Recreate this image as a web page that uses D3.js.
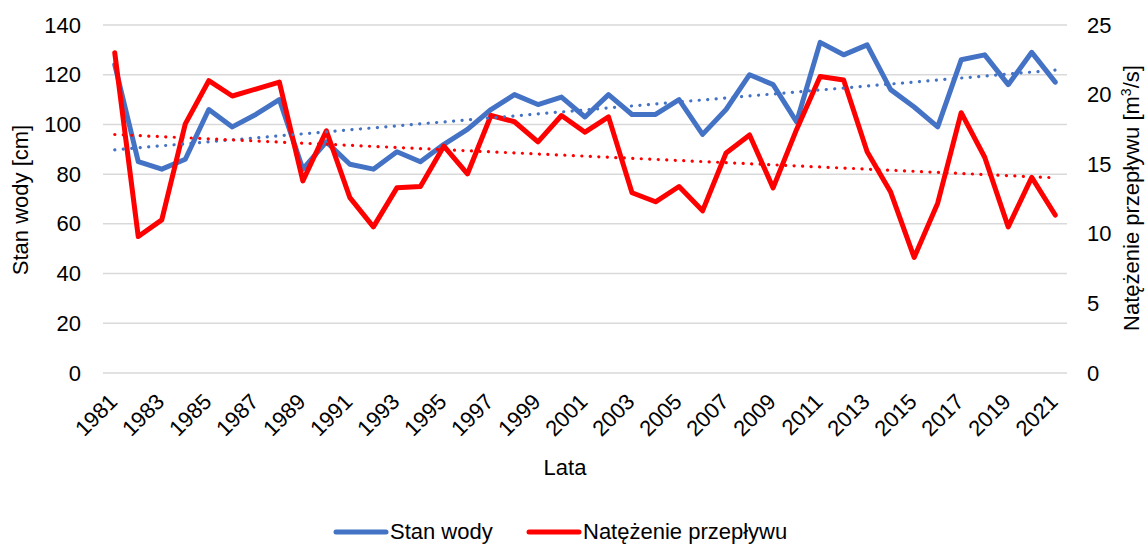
<!DOCTYPE html>
<html>
<head>
<meta charset="utf-8">
<script src="https://cdn.jsdelivr.net/npm/d3@7"></script>
<style>
  body { margin: 0; background: #fff; }
  svg { display: block; font-family: 'Liberation Sans', Arial, sans-serif; }
</style>
</head>
<body>
<div class="js-container"></div>
<script>
  'use strict';

  // Years on the x axis
  var years = d3.range(1981, 2022);

  // Stan wody [cm] (left axis)
  var stanWody = [124, 85, 82, 86, 106, 99, 104, 110, 82, 93,
                  84, 82, 89, 85, 92, 98, 106, 112, 108, 111,
                  103, 112, 104, 104, 110, 96, 106, 120, 116, 101,
                  133, 128, 132, 114, 107, 99, 126, 128, 116, 129, 117];

  // Natężenie przepływu [m3/s] (right axis)
  var przeplyw = [23.0, 9.8, 11.0, 17.9, 21.0, 19.9, 20.4, 20.9, 13.8, 17.4,
                  12.6, 10.5, 13.3, 13.4, 16.3, 14.3, 18.5, 18.05, 16.6, 18.5,
                  17.3, 18.4, 12.95, 12.3, 13.4, 11.65, 15.8, 17.1, 13.3, 17.5,
                  21.3, 21.05, 15.9, 13.0, 8.3, 12.2, 18.7, 15.5, 10.5, 14.05, 11.35];

  var leftTicks = [0, 20, 40, 60, 80, 100, 120, 140];
  var rightTicks = [0, 5, 10, 15, 20, 25];
  var yearLabels = years.filter(function(y) { return (y - 1981) % 2 === 0; });

  var blue = '#4472c4';
  var red = '#ff0000';
  var fs = 22;

  var W = 1148, H = 545;
  var plot = {left: 103, right: 1067, top: 25, bottom: 373};

  var svg = d3.select('.js-container').append('svg')
      .attr('width', W)
      .attr('height', H);

  var x = d3.scaleBand()
      .domain(years)
      .range([plot.left, plot.right]);

  var cx = function(y) { return x(y) + x.bandwidth() / 2; };

  var yL = d3.scaleLinear().domain([0, 140]).range([plot.bottom, plot.top]);
  var yR = d3.scaleLinear().domain([0, 25]).range([plot.bottom, plot.top]);

  // gridlines
  svg.append('g')
    .selectAll('line')
    .data(leftTicks)
    .join('line')
      .attr('x1', plot.left)
      .attr('x2', plot.right)
      .attr('y1', function(d) { return yL(d); })
      .attr('y2', function(d) { return yL(d); })
      .attr('stroke', '#d9d9d9')
      .attr('stroke-width', 1.5);

  // left axis labels
  var axisL = d3.axisLeft(yL).tickValues(leftTicks).tickSize(0).tickPadding(0);
  var gL = svg.append('g').attr('transform', 'translate(81,0)').call(axisL);
  gL.select('.domain').remove();
  gL.selectAll('text').attr('font-size', fs).attr('fill', '#000').attr('font-family', null);

  // right axis labels
  var axisR = d3.axisRight(yR).tickValues(rightTicks).tickSize(0).tickPadding(0);
  var gR = svg.append('g').attr('transform', 'translate(1087,0)').call(axisR);
  gR.select('.domain').remove();
  gR.selectAll('text').attr('font-size', fs).attr('fill', '#000').attr('font-family', null);

  // x axis labels, rotated
  var axisX = d3.axisBottom(x).tickValues(yearLabels).tickSize(0).tickPadding(0);
  var gX = svg.append('g').attr('transform', 'translate(0,' + plot.bottom + ')').call(axisX);
  gX.select('.domain').remove();
  gX.selectAll('text')
      .attr('font-size', fs)
      .attr('fill', '#000')
      .attr('font-family', null)
      .attr('text-anchor', 'end')
      .attr('dy', null)
      .attr('y', 0)
      .attr('transform', 'translate(4,30) rotate(-45)');

  // axis titles
  svg.append('text')
      .attr('transform', 'translate(28,200) rotate(-90)')
      .attr('text-anchor', 'middle')
      .attr('font-size', fs)
      .text('Stan wody [cm]');

  var rt = svg.append('text')
      .attr('transform', 'translate(1139,198) rotate(-90)')
      .attr('text-anchor', 'middle')
      .attr('font-size', fs);
  rt.append('tspan').text('Natężenie przepływu [m');
  rt.append('tspan').attr('font-size', 14).attr('dy', -8).text('3');
  rt.append('tspan').attr('dy', 8).text('/s]');

  svg.append('text')
      .attr('x', 565)
      .attr('y', 475)
      .attr('text-anchor', 'middle')
      .attr('font-size', fs)
      .text('Lata');

  // linear trend (least squares over index)
  function trend(values) {
    var n = values.length;
    var xs = d3.range(n);
    var mx = d3.mean(xs), my = d3.mean(values);
    var sxy = d3.sum(xs, function(i) { return (i - mx) * (values[i] - my); });
    var sxx = d3.sum(xs, function(i) { return (i - mx) * (i - mx); });
    var b = sxy / sxx, a = my - b * mx;
    return xs.map(function(i) { return a + b * i; });
  }

  function drawLine(values, yScale, color, dotted) {
    var line = d3.line()
        .x(function(d, i) { return cx(years[i]); })
        .y(function(d) { return yScale(d); });
    var p = svg.append('path')
        .datum(values)
        .attr('fill', 'none')
        .attr('stroke', color)
        .attr('d', line);
    if (dotted) {
      p.attr('stroke-width', 3.2)
       .attr('stroke-linecap', 'round')
       .attr('stroke-dasharray', '0.1 8.4');
    } else {
      p.attr('stroke-width', 5)
       .attr('stroke-linejoin', 'round')
       .attr('stroke-linecap', 'round');
    }
  }

  drawLine(stanWody, yL, blue, false);
  drawLine(przeplyw, yR, red, false);
  drawLine(trend(stanWody), yL, blue, true);
  drawLine(trend(przeplyw), yR, red, true);

  // legend
  var legend = [
    {name: 'Stan wody', color: blue, x: 336},
    {name: 'Natężenie przepływu', color: red, x: 529}
  ];
  var lg = svg.append('g');
  legend.forEach(function(d) {
    lg.append('line')
        .attr('x1', d.x).attr('x2', d.x + 50)
        .attr('y1', 532).attr('y2', 532)
        .attr('stroke', d.color)
        .attr('stroke-width', 5)
        .attr('stroke-linecap', 'round');
    lg.append('text')
        .attr('x', d.x + 54)
        .attr('y', 539)
        .attr('font-size', fs)
        .text(d.name);
  });
</script>
</body>
</html>
